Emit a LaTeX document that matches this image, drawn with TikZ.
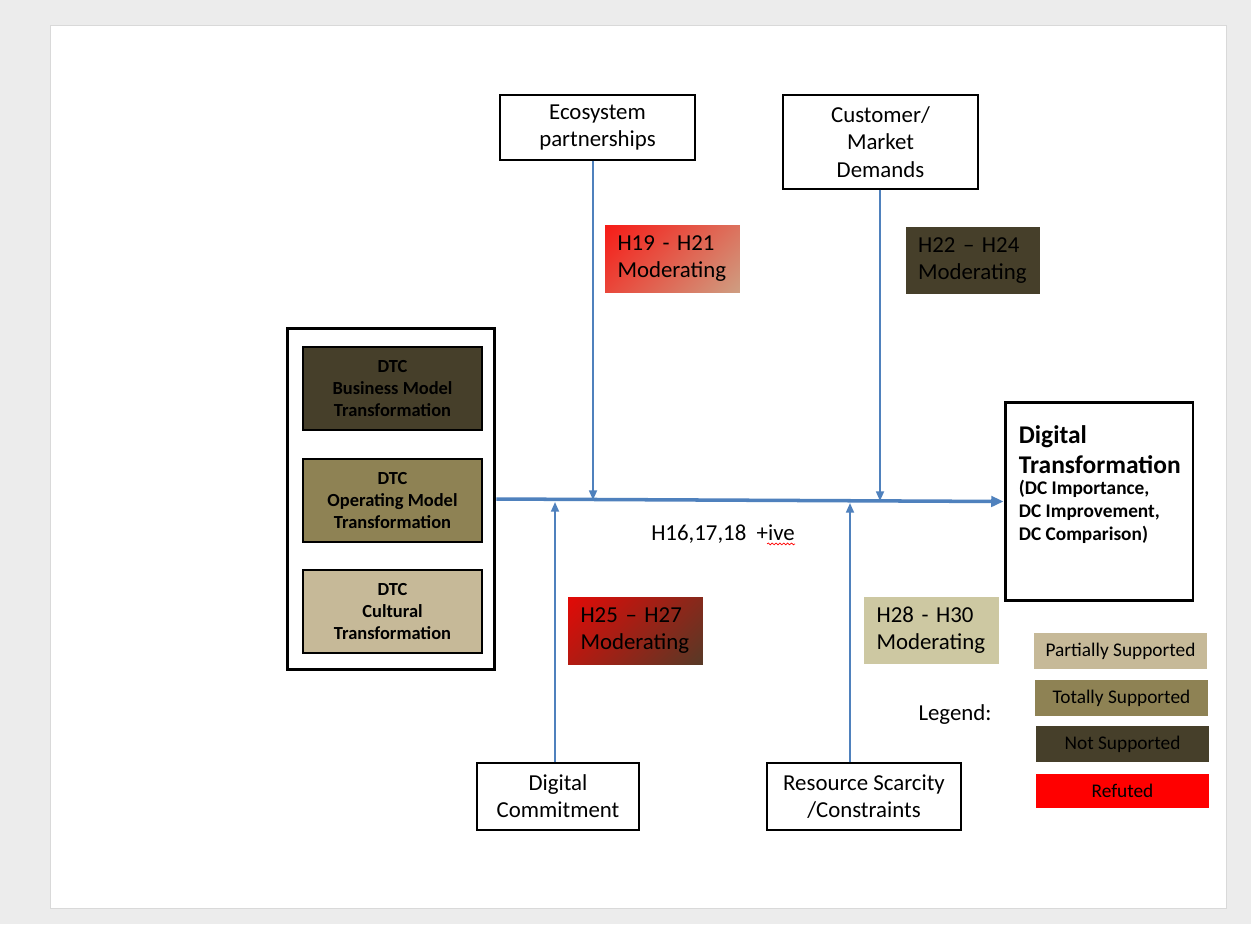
\documentclass[tikz,border=0pt]{standalone}
\usepackage{fontspec}
\setmainfont{Carlito}
\usetikzlibrary{arrows.meta, decorations.pathmorphing}

\definecolor{flow}{HTML}{4F81BD}
\definecolor{notsup}{HTML}{463F2A}
\definecolor{totsup}{HTML}{8E8254}
\definecolor{partsup}{HTML}{C6B998}
\definecolor{partsupB}{HTML}{CDC8A2}
\definecolor{refuted}{HTML}{FF0000}
\definecolor{frame}{HTML}{ECECEC}

% diagonal fills for the mixed results
\pgfdeclareverticalshading{mixpart}{100bp}{color(0bp)=(partsup); color(100bp)=(refuted)}
\pgfdeclareverticalshading{mixnot}{100bp}{color(0bp)=(partsup); color(6bp)=(notsup); color(100bp)=(refuted)}

\tikzset{
  factor/.style={draw, line width=0.8pt, fill=white, align=center, font=\fontsize{13}{15.5}\selectfont},
  hypo/.style={minimum width=2.7cm, minimum height=1.34cm, text width=2.2cm, inner xsep=0.25cm, align=left, font=\fontsize{13}{15.5}\selectfont},
  dtc/.style={draw, line width=0.9pt, minimum width=3.58cm, minimum height=1.66cm, align=center, font=\bfseries\fontsize{10.5}{12.5}\selectfont},
  key/.style={minimum width=3.46cm, minimum height=0.72cm, font=\fontsize{11}{13}\selectfont},
  flowline/.style={flow, line width=1.1pt},
}

\begin{document}
\begin{tikzpicture}[x=0.02cm, y=-0.02cm, >={Triangle[length=5.5pt, width=4.5pt]}]
    \useasboundingbox (0,0) rectangle (1251,924);
    % slide page
    \fill[frame] (0,0) rectangle (1251,924);
    \fill[white] (50,25) rectangle (1226,908);
    \draw[black!15] (50,25) rectangle (1226,908);

    % factors
    \node[factor, minimum width=3.9cm, minimum height=1.3cm] (eco) at (597.5,127.5) {Ecosystem\\partnerships};
    \node[factor, minimum width=3.9cm, minimum height=1.88cm] (cust) at (880.5,142) {Customer/\\Market\\Demands};
    \node[factor, minimum width=3.24cm, minimum height=1.34cm] (dcom) at (558,796.5) {Digital\\Commitment};
    \node[factor, minimum width=3.88cm, minimum height=1.34cm] (res) at (864,796.5) {Resource Scarcity\\/Constraints};

    % DTC block
    \node[draw, line width=1.7pt, minimum width=4.16cm, minimum height=6.84cm] (dtcbox) at (391,499) {};
    \node[dtc, fill=notsup] (dtc1) at (392.5,388.5) {DTC\\Business Model\\Transformation};
    \node[dtc, fill=totsup] (dtc2) at (392.5,500.5) {DTC\\Operating Model\\Transformation};
    \node[dtc, fill=partsup] (dtc3) at (392.5,611.5) {DTC\\Cultural\\Transformation};

    % outcome
    \node[draw, line width=1.7pt, minimum width=3.76cm, minimum height=3.98cm] (dt) at (1099,501.5) {};
    \node[anchor=north west, align=left, inner sep=0pt, font=\bfseries\fontsize{14.5}{17}\selectfont] (dtname)
        at ([xshift=0.3cm, yshift=-0.5cm]dt.north west) {Digital\\Transformation};
    \node[anchor=north west, align=left, inner sep=0pt, font=\bfseries\fontsize{11}{13}\selectfont] (dtsub)
        at ([yshift=-0.12cm]dtname.south west) {(DC Importance,\\DC Improvement,\\DC Comparison)};

    % hypotheses
    \node[hypo, shade, shading=mixpart, shading angle=45] (h19) at (672.5,258.5) {H19 - H21\\Moderating};
    \node[hypo, fill=notsup] (h22) at (973,260.5) {H22 -- H24\\Moderating};
    \node[hypo, shade, shading=mixnot, shading angle=45] (h25) at (635.5,630.5) {H25 -- H27\\Moderating};
    \node[hypo, fill=partsupB] (h28) at (931.5,630.5) {H28 - H30\\Moderating};
    \node[inner sep=0pt, font=\fontsize{13}{15.5}\selectfont] (h16) at (723,534) {H16,17,18\ \ +ive};
    \draw[red, line width=0.4pt, decorate, decoration={snake, amplitude=0.5pt, segment length=2.2pt}]
        ([xshift=-0.56cm, yshift=-2pt]h16.base east) -- ([yshift=-2pt]h16.base east);

    % main path and moderators
    \coordinate (jeco) at (593,500);
    \coordinate (jcust) at (880,501);
    \coordinate (jcom) at (555,502);
    \coordinate (jres) at (850,503);
    \draw[flowline, line width=2pt, ->, >={Triangle[length=7pt, width=6pt]}] (dtcbox.east) -- (dt.west);
    \draw[flowline, ->] (eco.south -| jeco) -- (jeco);
    \draw[flowline, ->] (cust.south -| jcust) -- (jcust);
    \draw[flowline, ->] (dcom.north -| jcom) -- (jcom);
    \draw[flowline, ->] (res.north -| jres) -- (jres);

    % legend
    \node[font=\fontsize{13}{15.5}\selectfont] (legend) at (955,715) {Legend:};
    \node[key, fill=partsup] (kpart) at (1120.5,651) {Partially Supported};
    \node[key, fill=totsup] (ktot) at (1121.5,698) {Totally Supported};
    \node[key, fill=notsup] (knot) at (1122.5,744) {Not Supported};
    \node[key, fill=refuted, minimum height=0.68cm] (kref) at (1122.5,791) {Refuted};
\end{tikzpicture}
\end{document}
